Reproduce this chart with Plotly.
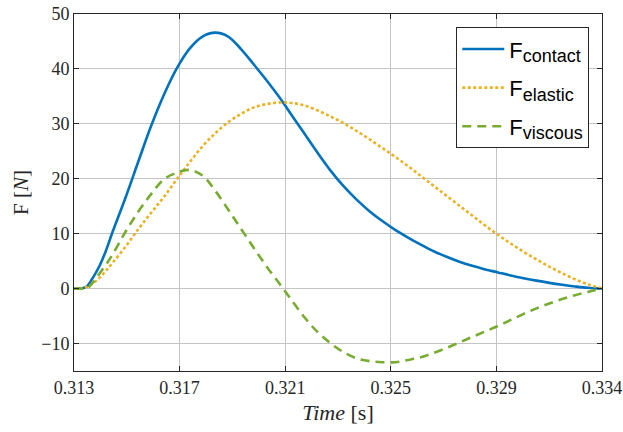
import numpy as np
import plotly.graph_objects as go

# time offsets from 0.313 s, in ms
tau_ms = [0, 0.25, 0.5, 0.75, 1.0, 1.25, 1.5, 2.0, 2.5, 3.0, 3.5, 4.0, 4.5, 5.0, 5.5, 6.0,
          6.5, 7.0, 7.5, 8.0, 8.5, 9.0, 9.5, 10.0, 10.5, 11.0, 11.5, 12.0, 12.5, 13.0, 13.5,
          14.0, 14.5, 15.0, 15.5, 16.0, 16.5, 17.0, 17.5, 18.0, 18.5, 19.0, 19.5, 20.0, 20.55]

f_contact = [0, 0, 0.4, 2.1, 4.2, 7.0, 10.3, 16.5, 23.1, 29.6, 35.3, 40.1, 43.7, 45.9,
             46.6, 45.9, 43.6, 40.8, 37.9, 34.8, 31.4, 28.0, 24.6, 21.4, 18.6, 16.2, 14.1,
             12.3, 10.7, 9.3, 8.0, 6.8, 5.8, 4.9, 4.15, 3.5, 2.95, 2.4, 1.9, 1.45, 1.05, 0.7,
             0.4, 0.15, 0.0]

f_elastic = [0, 0, 0.3, 1.0, 2.0, 3.3, 4.7, 7.6, 10.8, 13.8, 16.7, 19.9, 23.0, 25.9, 28.3,
             30.3, 31.8, 33.0, 33.6, 33.9, 33.8, 33.3, 32.4, 31.3, 30.1, 28.7, 27.2, 25.6,
             24.0, 22.3, 20.5, 18.7, 16.9, 15.1, 13.3, 11.5, 9.8, 8.2, 6.7, 5.3, 4.0, 2.8,
             1.7, 0.8, 0.0]

f_viscous = [0, 0, 0.0, 1.2, 2.8, 4.4, 6.2, 10.3, 14.0, 17.2, 19.9, 21.1, 21.6, 20.6, 17.8,
             14.4, 10.9, 7.4, 4.0, 0.9, -2.3, -5.4, -8.0, -10.0, -11.6, -12.7, -13.2, -13.4,
             -13.4, -13.0, -12.5, -11.7, -10.8, -9.8, -8.8, -7.8, -6.8, -5.7, -4.6, -3.6,
             -2.7, -1.9, -1.2, -0.6, 0.0]

x_tick_labels = ["0.313", "0.317", "0.321", "0.325", "0.329", "0.334"]
y_tick_vals = [-10, 0, 10, 20, 30, 40, 50]

t_start, t_end = 0.313, 0.33355
time = [t_start + v / 1000.0 for v in tau_ms]
x_tick_vals = list(np.linspace(t_start, t_end, len(x_tick_labels)))

SUB = "F<sub><span style='font-size:18px'>%s</span></sub>"

fig = go.Figure()
fig.add_trace(go.Scatter(x=time, y=f_contact, mode="lines", line_shape="spline",
                         name=SUB % "contact", legendgroup="a",
                         line=dict(color="#0072BD", width=2.6)))
fig.add_trace(go.Scatter(x=time, y=f_elastic, mode="lines", line_shape="spline",
                         name=SUB % "elastic", legendgroup="b",
                         line=dict(color="#EDB120", width=2.6, dash="3px,2.5px")))
fig.add_trace(go.Scatter(x=time, y=f_viscous, mode="lines", line_shape="spline",
                         name=SUB % "viscous", legendgroup="c",
                         line=dict(color="#77AC30", width=2.6, dash="9px,6px")))

axis_common = dict(showline=True, linecolor="#262626", linewidth=1, mirror="ticks",
                   ticks="inside", ticklen=5, tickcolor="#262626", showgrid=True,
                   gridcolor="#c4c4c4", gridwidth=1, zeroline=False, automargin=False,
                   tickfont=dict(family="Liberation Serif", size=18, color="#262626"))

fig.update_xaxes(range=[t_start, t_end], tickvals=x_tick_vals, ticktext=x_tick_labels,
                 title=dict(text="<i>Time</i> [s]", standoff=8,
                            font=dict(family="Liberation Serif", size=22, color="#262626")),
                 **axis_common)
fig.update_yaxes(range=[-15, 50], tickvals=y_tick_vals,
                 title=dict(text="F [<i>N</i>]", standoff=6,
                            font=dict(family="Liberation Serif", size=21, color="#262626")),
                 **axis_common)

fig.update_layout(
    width=623, height=432,
    margin=dict(l=74, r=21, t=14, b=61),
    paper_bgcolor="white", plot_bgcolor="white",
    showlegend=True,
    legend=dict(x=0.724, y=0.963, xanchor="left", yanchor="top",
                bgcolor="white", bordercolor="#262626", borderwidth=1,
                itemwidth=42,
                font=dict(family="Liberation Sans", size=22, color="#000000"),
                tracegroupgap=7),
)

fig.write_html("out.html")
